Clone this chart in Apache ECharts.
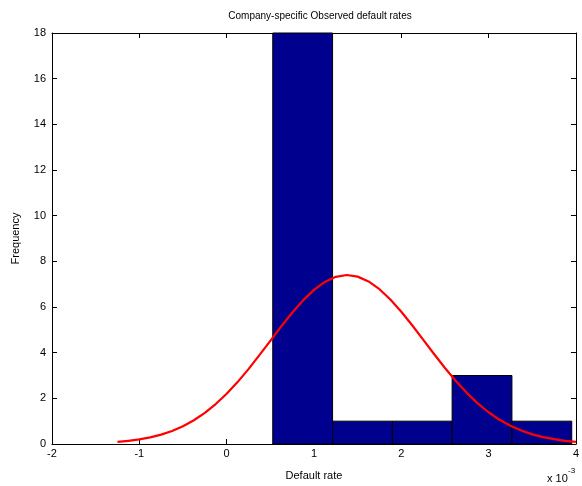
<!DOCTYPE html>
<html>
<head>
<meta charset="utf-8">
<script src="https://cdn.jsdelivr.net/npm/echarts@6/dist/echarts.min.js"></script>
<style>html,body{margin:0;padding:0;background:#fff;}#c{width:582px;height:486px;}</style>
</head>
<body>
<div id="c"></div>
<script>
var binEdges = [0.528, 1.213, 1.898, 2.582, 3.267, 3.952];
var binCounts = [18, 1, 1, 3, 1];
var fitX = [-1.25, -1.125, -1.0, -0.875, -0.75, -0.625, -0.5, -0.375, -0.25, -0.125,
  0.0, 0.125, 0.25, 0.375, 0.5, 0.625, 0.75, 0.875, 1.0, 1.125, 1.25, 1.375, 1.5, 1.625,
  1.75, 1.875, 2.0, 2.125, 2.25, 2.375, 2.5, 2.625, 2.75, 2.875, 3.0, 3.125, 3.25, 3.375,
  3.5, 3.625, 3.75, 3.875, 4.0];
var fitY = [0.09, 0.14, 0.20, 0.29, 0.41, 0.57, 0.78, 1.04, 1.36, 1.75,
  2.20, 2.71, 3.28, 3.89, 4.52, 5.15, 5.75, 6.29, 6.75, 7.10, 7.32, 7.40, 7.33, 7.12,
  6.78, 6.33, 5.79, 5.20, 4.57, 3.94, 3.33, 2.76, 2.24, 1.78, 1.39, 1.06, 0.80, 0.59,
  0.42, 0.30, 0.21, 0.14, 0.09];
var xTicks = [-2, -1, 0, 1, 2, 3, 4];
var yTicks = [0, 2, 4, 6, 8, 10, 12, 14, 16, 18];

var bars = binCounts.map(function (c, i) { return [binEdges[i], binEdges[i + 1], c]; });
var fit = fitX.map(function (x, i) { return [x, fitY[i]]; });

var font = 'Liberation Sans';
var chart = echarts.init(document.getElementById('c'), null, { renderer: 'canvas' });
var axisCommon = {
  axisLine: { show: true, onZero: false, lineStyle: { color: '#000', width: 1 } },
  axisTick: { show: true, inside: true, length: 5, lineStyle: { color: '#000' } },
  splitLine: { show: false }
};
chart.setOption({
  animation: false,
  backgroundColor: '#fff',
  title: {
    text: 'Company-specific Observed default rates',
    left: 315, top: 6, textAlign: 'center',
    textStyle: { fontFamily: font, fontSize: 10, fontWeight: 'normal', color: '#000' }
  },
  grid: { left: 52, right: 4, top: 33, bottom: 39 },
  xAxis: [
    Object.assign({
      type: 'value', min: -2, max: 4, interval: 1, position: 'bottom',
      axisLabel: { color: '#000', fontFamily: font, fontSize: 11, margin: 4,
        formatter: function (v) { return xTicks.indexOf(v) >= 0 ? String(v) : ''; } },
      name: 'Default rate', nameLocation: 'middle', nameGap: 26,
      nameTextStyle: { fontFamily: font, fontSize: 11, color: '#000' }
    }, axisCommon),
    Object.assign({
      type: 'value', min: -2, max: 4, interval: 1, position: 'top',
      axisLabel: { show: false }
    }, axisCommon)
  ],
  yAxis: [
    Object.assign({
      type: 'value', min: 0, max: 18, interval: 2, position: 'left',
      axisLabel: { color: '#000', fontFamily: font, fontSize: 11, margin: 6,
        formatter: function (v) { return yTicks.indexOf(v) >= 0 ? String(v) : ''; } },
      name: 'Frequency', nameLocation: 'middle', nameGap: 31,
      nameTextStyle: { fontFamily: font, fontSize: 11, color: '#000' }
    }, axisCommon),
    Object.assign({
      type: 'value', min: 0, max: 18, interval: 2, position: 'right',
      axisLabel: { show: false }
    }, axisCommon)
  ],
  graphic: [
    { type: 'text', left: 547, top: 473, style: { text: 'x 10', font: '11px "Liberation Sans"', fill: '#000' } },
    { type: 'text', left: 568, top: 467, style: { text: '-3', font: '8px "Liberation Sans"', fill: '#000' } }
  ],
  series: [
    {
      type: 'custom', xAxisIndex: 0, yAxisIndex: 0, data: bars,
      encode: { x: [0, 1], y: 2 },
      renderItem: function (params, api) {
        var p0 = api.coord([api.value(0), api.value(2)]);
        var p1 = api.coord([api.value(1), 0]);
        return {
          type: 'rect',
          shape: { x: p0[0], y: p0[1], width: p1[0] - p0[0], height: p1[1] - p0[1] },
          style: { fill: '#00008F', stroke: '#000', lineWidth: 1 }
        };
      }
    },
    {
      type: 'line', xAxisIndex: 0, yAxisIndex: 0, data: fit, smooth: false,
      showSymbol: false, symbol: 'none', clip: true,
      lineStyle: { color: '#ff0000', width: 2.2, join: 'round' }
    }
  ]
});
</script>
</body>
</html>
